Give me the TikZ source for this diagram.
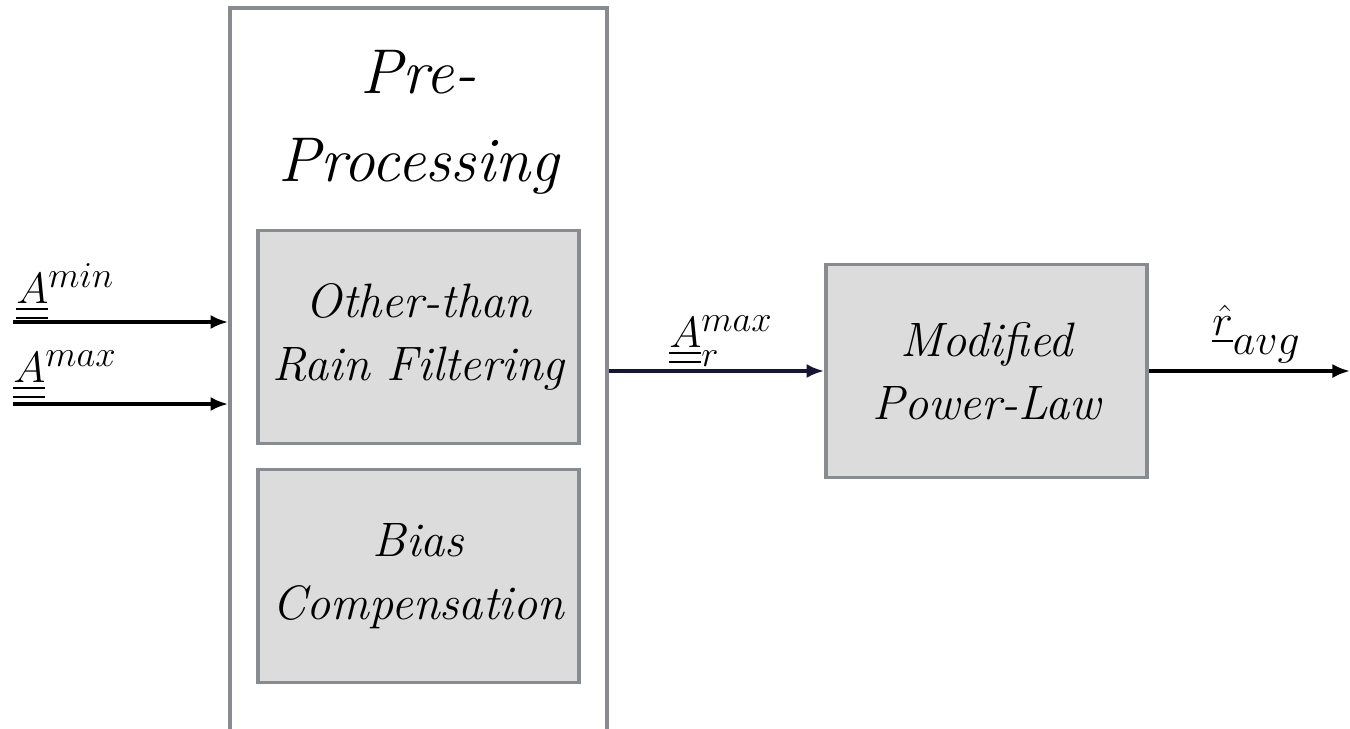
\documentclass[tikz,border=0pt]{standalone}
\usepackage{amsmath}
\usetikzlibrary{positioning,arrows.meta}
\definecolor{boxgray}{RGB}{136,139,143}
\definecolor{boxfill}{RGB}{220,220,220}
\definecolor{darknavy}{RGB}{22,22,52}
\tikzset{
  outer/.style={draw=boxgray, line width=2.1pt, fill=white, minimum width=7.54cm, minimum height=14.84cm, inner sep=0pt},
  block/.style={draw=boxgray, line width=2.1pt, fill=boxfill, minimum width=6.42cm, minimum height=4.26cm, align=center, inner sep=0pt, font=\fontsize{27.5}{36}\selectfont\itshape},
  lab/.style={inner sep=0pt, font=\fontsize{29}{35}\selectfont},
  sig/.style={line width=2pt, -{Latex[length=10pt,width=8pt]}}
}
\begin{document}
\begin{tikzpicture}[x=0.02cm, y=-0.02cm]
        \useasboundingbox (0,0) rectangle (1350,728);
        % pre-processing frame (runs past the lower edge)
        \node[outer] (pre) at (418.5,379) {};
        \node[align=center, inner sep=0pt, font=\fontsize{36}{50}\selectfont\itshape] (pretitle) at (418.5,122) {Pre-\\Processing};
        \node[block] (filt) at (418.5,337) {Other-than\\Rain Filtering};
        \node[block] (bias) at (418.5,576) {Bias\\Compensation};
        \node[block] (law) at (986.5,371) {Modified\\Power-Law};
        % inputs
        \coordinate (in1) at (13,322);
        \coordinate (in2) at (13,404);
        \coordinate (out) at (1350,371);
        \draw[sig] (in1) -- (pre.west |- in1);
        \draw[sig] (in2) -- (pre.west |- in2);
        \node[lab, anchor=base west] (amin) at (16,303) {$\underline{\underline{A}}^{min}$};
        \node[lab, anchor=base west] (amax) at (13,382) {$\underline{\underline{A}}^{max}$};
        % to the power law
        \draw[sig, darknavy] (pre.east |- out) -- (law.west |- out);
        \node[lab, anchor=base west, font=\fontsize{32}{38}\selectfont] (armax) at (669,347) {$\underline{\underline{A}}_r^{max}$};
        % output
        \draw[sig] (law.east |- out) -- (out);
        \node[lab, anchor=base west, font=\fontsize{35}{40}\selectfont] (ravg) at (1212,335) {$\underline{\hat{r}}_{\lower5pt\hbox{$\scriptstyle avg$}}$};
\end{tikzpicture}
\end{document}
